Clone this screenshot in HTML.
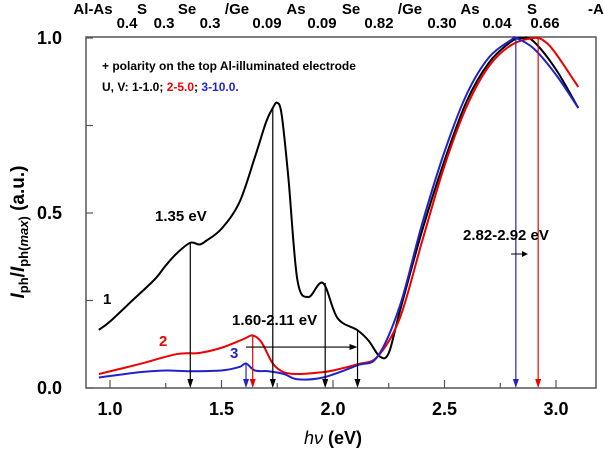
<!DOCTYPE html>
<html><head><meta charset="utf-8"><style>
body{margin:0;background:#fff;}
svg text{font-family:"Liberation Sans",Arial,sans-serif;font-weight:bold;}
</style></head><body>
<svg id="chart" width="604" height="452" viewBox="0 0 604 452" xmlns="http://www.w3.org/2000/svg">
<g id="top-labels"></g>
<rect x="86" y="37" width="510" height="351" fill="none" stroke="#555" stroke-width="1.5"/>
<g id="ticks"></g>
<g id="series"></g>
<g id="arrows"></g>
<text x="103" y="304" font-size="15" fill="#000">1</text>
<text x="159" y="346" font-size="15" fill="#e00">2</text>
<text x="230" y="358" font-size="15" fill="#22c">3</text>
<text x="155" y="221" font-size="15" fill="#000">1.35 eV</text>
<text x="232" y="325" font-size="15" fill="#000">1.60-2.11 eV</text>
<text x="463" y="240" font-size="15" fill="#000">2.82-2.92 eV</text>
<line x1="511" y1="254" x2="522" y2="254" stroke="#000" stroke-width="1"/>
<path d="M522,251 L528,254 L522,257 Z" fill="#000"/>
<text x="102" y="70" font-size="12" fill="#000">+ polarity on the top Al-illuminated electrode</text>
<text x="102" y="91" font-size="12"><tspan fill="#000">U, V: 1-1.0; </tspan><tspan fill="#e00">2-5.0</tspan><tspan fill="#000">; </tspan><tspan fill="#22c">3-10.0.</tspan></text>
<text x="333" y="444" font-size="18" text-anchor="middle"><tspan font-style="italic" style="font-weight:normal">hν</tspan> (eV)</text>
<text transform="translate(24,232) rotate(-90)" font-size="19" text-anchor="middle"><tspan font-style="italic">I</tspan><tspan font-size="13" dy="4">ph</tspan><tspan dy="-4">/</tspan><tspan font-style="italic">I</tspan><tspan font-size="13" dy="4">ph(</tspan><tspan font-size="13" font-style="italic">max</tspan><tspan font-size="13">)</tspan><tspan dy="-4"> (a.u.)</tspan></text>
</svg>
<script>
const xTicks=[1.0,1.5,2.0,2.5,3.0];
const xTickLabels=["1.0","1.5","2.0","2.5","3.0"];
const yTicks=[0,0.5,1.0];
const yTickLabels=["0.0","0.5","1.0"];
const curve1E=[0.95,1.0,1.1,1.2,1.25,1.3,1.36,1.4,1.43,1.5,1.58,1.65,1.7,1.73,1.75,1.77,1.8,1.84,1.89,1.955,2.02,2.11,2.16,2.21,2.25,2.3,2.4,2.5,2.6,2.7,2.8,2.85,2.9,3.0,3.1];
const curve1V=[0.166,0.19,0.25,0.31,0.35,0.385,0.415,0.41,0.42,0.455,0.53,0.66,0.76,0.8,0.815,0.78,0.6,0.31,0.26,0.30,0.20,0.165,0.135,0.09,0.1,0.22,0.45,0.65,0.82,0.93,0.99,1.0,0.99,0.91,0.80];
const curve2E=[0.95,1.13,1.3,1.4,1.5,1.6,1.64,1.68,1.73,1.78,1.85,1.95,2.0,2.11,2.2,2.3,2.4,2.5,2.6,2.7,2.8,2.9,2.95,3.0,3.1];
const curve2V=[0.04,0.068,0.097,0.1,0.115,0.14,0.15,0.13,0.07,0.045,0.04,0.045,0.05,0.068,0.09,0.2,0.42,0.635,0.805,0.92,0.98,1.0,0.99,0.955,0.86];
const curve3E=[0.95,1.13,1.25,1.36,1.5,1.58,1.61,1.65,1.71,1.78,1.84,1.955,2.11,2.2,2.3,2.4,2.5,2.6,2.7,2.8,2.82,2.9,3.0,3.1];
const curve3V=[0.03,0.045,0.05,0.048,0.05,0.06,0.07,0.05,0.048,0.04,0.025,0.03,0.065,0.09,0.235,0.47,0.675,0.84,0.945,0.995,1.0,0.97,0.895,0.80];
const layerNames=["Al-As","S","Se","/Ge","As","Se","/Ge","As","S","-Al"];
const layerNameX=[93,142,187,237,296,351,410,470,532,598];
const thickness=["0.4","0.3","0.3","0.09","0.09","0.82","0.30","0.04","0.66"];
const thicknessX=[127,164,210,267,322,379,442,497,545];
const blackArrowE=[1.36,1.73,1.965,2.11];
const blackArrowV=[0.415,0.8,0.30,0.165];
const colorArrowE=[1.61,1.64,2.82,2.92];
const colorArrowV=[0.07,0.15,1.0,1.0];
const colorArrowC=["#22c","#e00","#22c","#e00"];
const hArrowE=[1.61,2.11];
const hArrowV=0.117;

const X=e=>110+(e-1.0)*223;
const Y=v=>388-v*350;
const NS="http://www.w3.org/2000/svg";
function mk(tag,attrs,parent){const el=document.createElementNS(NS,tag);for(const k in attrs)el.setAttribute(k,attrs[k]);parent.appendChild(el);return el;}

const tl=document.getElementById('top-labels');
layerNames.forEach((n,i)=>{const t=mk('text',{x:layerNameX[i],y:14,'font-size':15,'text-anchor':'middle',fill:'#000'},tl);t.textContent=n;

});
thickness.forEach((n,i)=>{const t=mk('text',{x:thicknessX[i],y:28,'font-size':15,'text-anchor':'middle',fill:'#000'},tl);t.textContent=n;

});

const tg=document.getElementById('ticks');
for(let e=1.0;e<=3.11;e+=0.25){const maj=Math.abs(e*2-Math.round(e*2))<0.01;
const l=mk('line',{x1:X(e),x2:X(e),y1:388,y2:388-(maj?8:5),stroke:'#555','stroke-width':1.2},tg);

}
xTicks.forEach((e,i)=>{const t=mk('text',{x:X(e),y:415,'font-size':18,'text-anchor':'middle'},tg);t.textContent=xTickLabels[i];

});
for(let v=0;v<=1.001;v+=0.25){const l=mk('line',{x1:86,x2:93,y1:Y(v),y2:Y(v),stroke:'#555','stroke-width':1.2},tg);

}
yTicks.forEach((v,i)=>{const t=mk('text',{x:62,y:Y(v)+6,'font-size':18,'text-anchor':'end'},tg);t.textContent=yTickLabels[i];

});

function smooth(E,V){const p=E.map((e,i)=>[X(e),Y(V[i])]);let d=`M${p[0][0]},${p[0][1]}`;
for(let i=0;i<p.length-1;i++){const p0=p[i-1]||p[i],p1=p[i],p2=p[i+1],p3=p[i+2]||p2;
d+=` C${p1[0]+(p2[0]-p0[0])/6},${p1[1]+(p2[1]-p0[1])/6} ${p2[0]-(p3[0]-p1[0])/6},${p2[1]-(p3[1]-p1[1])/6} ${p2[0]},${p2[1]}`;}return d;}
const sg=document.getElementById('series');
[[curve1E,curve1V,'#000','curve-1-black'],[curve2E,curve2V,'#e00','curve-2-red'],[curve3E,curve3V,'#22c','curve-3-blue']].forEach(s=>{
const p=mk('path',{d:smooth(s[0],s[1]),fill:'none',stroke:s[2],'stroke-width':2},sg);

});

const ag=document.getElementById('arrows');
function varrow(e,v,c,name){const x=X(e);
const l=mk('line',{x1:x,x2:x,y1:Y(v),y2:380,stroke:c,'stroke-width':1.2},ag);


mk('path',{d:`M${x-3},379 L${x+3},379 L${x},388 Z`,fill:c},ag);}
blackArrowE.forEach((e,i)=>varrow(e,blackArrowV[i],'#000','peak-arrow'));
colorArrowE.forEach((e,i)=>varrow(e,colorArrowV[i],colorArrowC[i],'peak-arrow-colored'));
const h=mk('line',{x1:X(hArrowE[0]),x2:X(hArrowE[1])-7,y1:Y(hArrowV),y2:Y(hArrowV),stroke:'#000','stroke-width':1.2},ag);


mk('path',{d:`M${X(hArrowE[1])-8},${Y(hArrowV)-3} L${X(hArrowE[1])},${Y(hArrowV)} L${X(hArrowE[1])-8},${Y(hArrowV)+3} Z`,fill:'#000'},ag);
</script>
</body></html>
